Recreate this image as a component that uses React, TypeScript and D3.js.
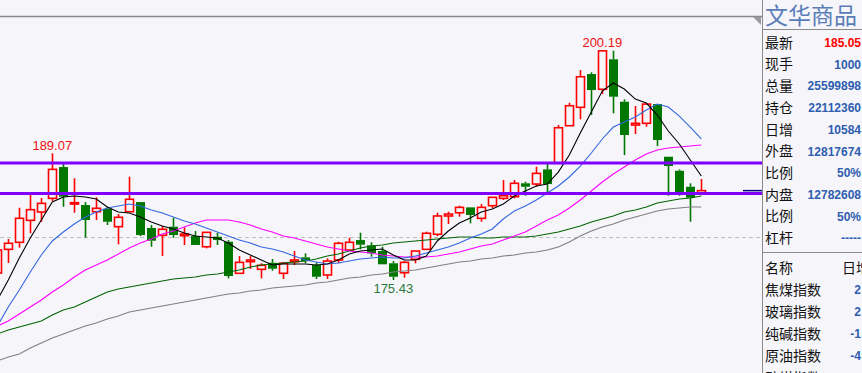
import React from 'react';
import * as d3 from 'd3';

// index 0 is the partly hidden bar at the left edge
const opens = [176.18, 178.73, 179.49, 181.85, 182.75, 184.22, 187.59, 183.61, 183.5, 182.78, 183.1, 181.17, 182.78, 183.82, 181.03, 180.24, 181.17, 180.2, 180.16, 179.01, 180.09, 179.55, 176.15, 177.4, 176.58, 177.29, 176.15, 177.4, 177.87, 177.04, 175.97, 177.58, 178.66, 179.73, 179.16, 178.55, 177.23, 176.21, 177.66, 178.73, 180.35, 182.32, 182.67, 183.25, 182.07, 183.43, 184.22, 184.4, 185.84, 185.76, 187.34, 187.99, 192.04, 194.02, 197.6, 195.96, 199.19, 194.62, 192.11, 192.3, 194.37, 188.7, 187.19, 185.47, 184.69];
const highs = [178.66, 179.84, 183.21, 184.65, 184.26, 189.07, 187.92, 186.38, 183.82, 184.33, 183.32, 182.53, 186.55, 183.82, 181.35, 181.24, 182.13, 181.1, 180.7, 180.56, 180.52, 179.73, 178.01, 178.01, 177.23, 177.69, 177.37, 178.55, 178.3, 177.33, 177.76, 179.55, 179.98, 180.52, 179.49, 179.01, 177.47, 177.47, 178.55, 180.63, 182.67, 182.78, 183.43, 183.25, 183.61, 184.33, 186.19, 186.19, 186.01, 187.62, 187.99, 192.11, 194.51, 198.03, 197.79, 200.19, 200.11, 194.88, 194.16, 194.37, 194.37, 188.7, 187.34, 185.84, 186.3];
const lows = [176.18, 177.26, 178.91, 180.46, 181.7, 183.93, 183.32, 182.67, 179.98, 181.89, 181.35, 179.27, 182.78, 180.16, 179.01, 178.01, 179.98, 179.2, 179.2, 178.84, 179.2, 175.61, 176.15, 176.61, 175.61, 176.43, 175.54, 177.04, 177.23, 175.54, 175.54, 177.23, 178.66, 178.73, 177.94, 177.12, 175.43, 175.68, 177.23, 178.73, 180.16, 181.46, 182.24, 181.53, 181.7, 183.15, 184.04, 184.22, 184.5, 185.47, 184.76, 187.99, 192.04, 192.73, 193.19, 195.45, 193.37, 188.88, 191.14, 191.93, 189.85, 184.5, 184.5, 181.7, 184.69];
const closes = [178.66, 179.38, 182.07, 183.0, 183.68, 187.34, 184.4, 183.75, 181.89, 183.15, 181.7, 182.18, 184.12, 180.27, 179.66, 180.89, 180.27, 180.38, 179.2, 180.56, 179.73, 175.86, 177.33, 177.58, 177.01, 176.64, 177.23, 177.58, 177.47, 175.78, 177.47, 179.38, 179.49, 179.23, 178.3, 177.12, 175.78, 177.33, 178.55, 180.46, 182.32, 182.53, 183.25, 182.43, 183.25, 184.33, 184.5, 185.84, 185.47, 186.91, 185.76, 191.82, 194.19, 197.31, 195.88, 200.1, 195.16, 191.04, 192.3, 194.37, 190.5, 187.7, 184.69, 184.29, 185.05];

const ma5 = [173.27, 175.43, 177.8, 179.95, 181.89, 183.83, 184.36, 184.47, 184.36, 184.15, 183.29, 182.75, 182.64, 182.21, 181.67, 181.24, 180.92, 180.49, 180.16, 180.06, 179.95, 179.41, 178.66, 178.12, 177.58, 177.04, 177.15, 177.15, 177.15, 177.04, 177.15, 177.58, 178.23, 178.55, 178.66, 178.77, 178.12, 177.58, 177.58, 178.01, 179.63, 180.7, 181.56, 182.1, 182.75, 183.07, 183.61, 184.47, 185.01, 185.55, 185.76, 187.05, 188.88, 191.25, 193.51, 195.77, 196.64, 195.99, 194.91, 194.48, 193.19, 191.47, 190.07, 188.35, 186.62];
const ma10 = [170.48, 172.52, 174.35, 176.29, 178.12, 179.63, 180.6, 181.46, 182.21, 182.75, 183.18, 183.39, 183.61, 183.39, 182.96, 182.64, 182.21, 181.78, 181.46, 181.03, 180.6, 180.16, 179.73, 179.41, 178.98, 178.77, 178.44, 178.01, 177.58, 177.37, 177.15, 177.26, 177.47, 177.69, 177.8, 177.9, 177.8, 177.8, 178.01, 178.33, 178.66, 178.98, 179.41, 179.95, 180.38, 180.92, 182.0, 182.86, 183.39, 184.04, 184.79, 185.55, 186.52, 187.7, 189.1, 190.61, 191.9, 192.44, 192.98, 193.73, 194.37, 194.05, 193.08, 191.9, 190.61];
const ma20 = [170.48, 171.01, 171.77, 172.52, 173.27, 174.14, 174.89, 175.75, 176.5, 177.04, 177.58, 178.23, 178.87, 179.41, 179.84, 180.38, 180.7, 181.13, 181.56, 181.89, 181.89, 181.89, 181.67, 181.35, 180.92, 180.6, 180.16, 179.95, 179.63, 179.3, 178.98, 178.77, 178.55, 178.44, 178.33, 178.12, 178.01, 177.9, 177.9, 177.9, 178.01, 178.23, 178.44, 178.77, 179.09, 179.3, 179.73, 180.16, 180.6, 181.24, 181.89, 182.43, 183.18, 184.04, 185.01, 185.98, 186.84, 187.59, 188.35, 188.99, 189.42, 189.64, 189.75, 189.85, 189.96];
const ma40 = [169.62, 170.05, 170.37, 170.69, 171.01, 171.66, 172.2, 172.52, 173.06, 173.6, 174.14, 174.46, 174.67, 174.89, 175.1, 175.32, 175.54, 175.64, 175.75, 175.97, 176.07, 176.29, 176.5, 176.83, 177.04, 177.15, 177.26, 177.37, 177.47, 177.69, 178.01, 178.23, 178.55, 178.87, 179.09, 179.2, 179.41, 179.52, 179.63, 179.73, 179.84, 179.95, 180.06, 180.06, 179.95, 179.95, 180.06, 180.06, 180.06, 180.16, 180.38, 180.6, 180.92, 181.24, 181.67, 182.0, 182.32, 182.75, 182.96, 183.29, 183.72, 183.93, 184.15, 184.26, 184.47];
const ma60 = [166.71, 167.14, 167.46, 168.11, 168.65, 169.18, 169.62, 170.05, 170.48, 170.8, 171.23, 171.55, 171.98, 172.2, 172.41, 172.63, 172.84, 173.06, 173.27, 173.49, 173.71, 173.92, 174.03, 174.24, 174.35, 174.57, 174.67, 174.78, 174.89, 175.1, 175.21, 175.43, 175.64, 175.75, 175.97, 176.07, 176.29, 176.4, 176.5, 176.72, 176.94, 177.15, 177.37, 177.47, 177.69, 177.8, 178.01, 178.12, 178.33, 178.44, 178.66, 178.98, 179.52, 180.16, 180.7, 181.13, 181.46, 181.89, 182.21, 182.53, 182.86, 183.07, 183.18, 183.29, 183.29];

const maLines = [ma60, ma40, ma20, ma10, ma5];
const maColors = ['#808080', '#006400', '#ff00ff', '#3366e0', '#000000'];

const markIndex = [5, 55, 36];
const markValue = [189.07, 200.19, 175.43];
const markColor = ['#ee1111', '#ee1111', '#2a7a3a'];

const levelLines = [188.02, 184.75];
const refLine = 180.0;
const lastPrice = 185.05;

const quoteLabels = ['最新', '现手', '总量', '持仓', '日增', '外盘', '比例', '内盘', '比例', '杠杆'];
const quoteValues = ['185.05', '1000', '25599898', '22112360', '10584', '12817674', '50%', '12782608', '50%', '-----'];

const boardNames = ['焦煤指数', '玻璃指数', '纯碱指数', '原油指数', '动煤指数'];
const boardValues = ['2', '2', '-1', '-4', ''];

const W = 862;
const H = 373;
const panelX = 762;
const bg = '#f5f5fa';
const up = '#ff0000';
const down = '#007800';
const numFont = '"Liberation Sans", Arial, sans-serif';
const cjkFont = '"Noto Sans CJK SC", sans-serif';

const App = () => {
  const x = d3.scaleLinear().domain([0, opens.length - 1]).range([-2.7, 701.3]);
  const y = d3.scaleLinear().domain([175.43, 200.19]).range([280, 50]);
  const bodyW = 8;

  const line = (arr: number[]) =>
    d3.line<number>()
      .x((_, i) => x(i))
      .y((d) => y(d))(arr) || '';

  return (
    <div style={{ position: 'absolute', left: 0, top: 0 }}>
      <svg width={W} height={H} style={{ display: 'block', background: bg }}>
        <defs>
          <clipPath id="plot-clip">
            <rect x={0} y={17} width={panelX} height={H - 17} />
          </clipPath>
        </defs>

        <line x1={0} x2={panelX} y1={16.5} y2={16.5} stroke="#8a8a8a" strokeWidth={1.5} />
        <path d={`M${panelX - 9},17 L${panelX - 1},17 L${panelX - 1},25 Z`} fill="#9a9a9a" />

        <g clipPath="url(#plot-clip)">
          <line x1={0} x2={panelX} y1={y(refLine)} y2={y(refLine)}
            stroke="#bdbdbd" strokeDasharray="4,3" strokeWidth={1} />

          {opens.map((o, i) => {
            const c = closes[i];
            const isUp = c >= o;
            const col = isUp ? up : down;
            const cx = Math.round(x(i)) + 0.5;
            const top = y(Math.max(o, c));
            const bot = y(Math.min(o, c));
            return (
              <g key={i}>
                <line x1={cx} x2={cx} y1={y(highs[i])} y2={top} stroke={col} strokeWidth={1.6} />
                <line x1={cx} x2={cx} y1={bot} y2={y(lows[i])} stroke={col} strokeWidth={1.6} />
                {isUp ? (
                  <rect x={cx - bodyW / 2} y={top} width={bodyW} height={Math.max(bot - top, 1)}
                    fill={bg} stroke={col} strokeWidth={1.6} />
                ) : (
                  <rect x={cx - bodyW / 2 - 0.5} y={top} width={bodyW + 1} height={Math.max(bot - top, 1.5)}
                    fill={col} />
                )}
              </g>
            );
          })}

          {maLines.map((arr, k) => (
            <path key={k} d={line(arr)} fill="none" stroke={maColors[k]} strokeWidth={1.1} />
          ))}

          {levelLines.map((v) => (
            <line key={v} x1={0} x2={panelX} y1={y(v)} y2={y(v)} stroke="#7f00ff" strokeWidth={3} />
          ))}

          <line x1={743} x2={panelX} y1={y(lastPrice)} y2={y(lastPrice)} stroke="#000080" strokeWidth={1.5} />

          {markIndex.map((idx, k) => (
            <text key={k} x={x(idx)} y={k === 2 ? y(markValue[k]) + 13 : y(markValue[k]) - 3.5}
              textAnchor="middle" fontFamily={numFont} fontSize={13} fill={markColor[k]}>
              {markValue[k].toFixed(2)}
            </text>
          ))}
        </g>

        {/* right side quote panel */}
        <line x1={panelX + 0.5} x2={panelX + 0.5} y1={0} y2={H} stroke="#8a8a8a" strokeWidth={1} />
        <text x={765} y={24} fontFamily={cjkFont} fontSize={23} fill="#5a7db8">文华商品</text>
        <line x1={panelX} x2={W} y1={29.5} y2={29.5} stroke="#8a8a8a" strokeWidth={1} />

        {quoteLabels.map((lab, k) => (
          <g key={k}>
            <text x={765} y={47.7 + 21.7 * k} fontFamily={cjkFont} fontSize={14} fill="#111">{lab}</text>
            <text x={861} y={47 + 21.7 * k} textAnchor="end" fontFamily={numFont} fontSize={12}
              fontWeight="bold" fill={k === 0 ? '#ff0000' : '#2f5db0'}>
              {quoteValues[k]}
            </text>
          </g>
        ))}

        <line x1={panelX} x2={W} y1={252.5} y2={252.5} stroke="#8a8a8a" strokeWidth={1} />
        <text x={765} y={272.5} fontFamily={cjkFont} fontSize={14} fill="#111">名称</text>
        <text x={842} y={272.5} fontFamily={cjkFont} fontSize={14} fill="#111">日增</text>
        {boardNames.map((nm, k) => (
          <g key={nm}>
            <text x={765} y={294.5 + 22 * k} fontFamily={cjkFont} fontSize={14} fill="#111">{nm}</text>
            <text x={861} y={294 + 22 * k} textAnchor="end" fontFamily={numFont} fontSize={12}
              fontWeight="bold" fill="#2f5db0">
              {boardValues[k]}
            </text>
          </g>
        ))}
      </svg>
    </div>
  );
};

export default App;
